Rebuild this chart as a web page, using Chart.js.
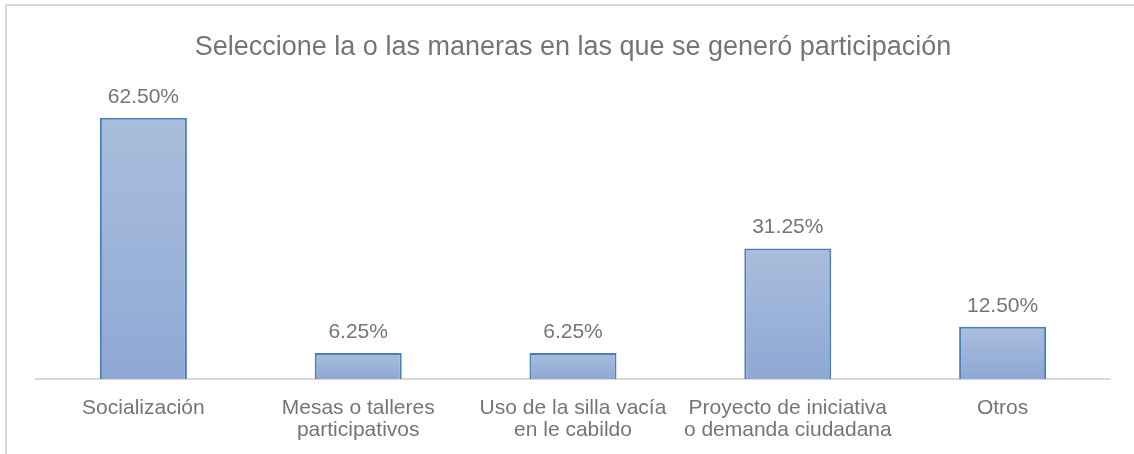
<!DOCTYPE html>
<html>
<head>
<meta charset="utf-8">
<script src="https://cdn.jsdelivr.net/npm/chart.js@4/dist/chart.umd.min.js"></script>
<style>
    body { margin: 0; background: #fff; overflow: hidden; }
    .frame { position: absolute; left: 5px; top: 4px; width: 1200px; height: 500px;
             border-top: 2px solid #d9d9d9; border-left: 2px solid #d9d9d9; }
    #chart { position: absolute; left: 0; top: 0; }
</style>
</head>
<body>
<div class="frame"></div>
<canvas id="chart" width="1134" height="454"></canvas>
<script>
// datos
const chartTitle = 'Seleccione la o las maneras en las que se generó participación'
const categories = [
    'Socialización',
    ['Mesas o talleres', 'participativos'],
    ['Uso de la silla vacía', 'en le cabildo'],
    ['Proyecto de iniciativa', 'o demanda ciudadana'],
    'Otros'
]
const values = [62.5, 6.25, 6.25, 31.25, 12.5]

const textColor = '#757575'
const fontFamily = '"Liberation Sans", Arial, sans-serif'

function barGradient(context) {
    const chart = context.chart
    const y = chart.scales.y
    if (!y || context.raw === undefined) return '#9db3d8'
    const top = y.getPixelForValue(context.raw)
    const bottom = y.getPixelForValue(0)
    if (!isFinite(top) || !isFinite(bottom) || top === bottom) return '#9db3d8'
    const g = chart.ctx.createLinearGradient(0, top, 0, bottom)
    g.addColorStop(0, '#aabddc')
    g.addColorStop(1, '#8ea9d5')
    return g
}

// etiquetas de valor encima de cada barra
const valueLabels = {
    id: 'valueLabels',
    afterDatasetsDraw(chart) {
        const ctx = chart.ctx
        const meta = chart.getDatasetMeta(0)
        ctx.save()
        ctx.font = '21px ' + fontFamily
        ctx.fillStyle = textColor
        ctx.textAlign = 'center'
        ctx.textBaseline = 'alphabetic'
        meta.data.forEach((bar, i) => {
            ctx.fillText(values[i].toFixed(2) + '%', bar.x, bar.y - 15)
        })
        ctx.restore()
    }
}

const data = {
    labels: categories,
    datasets: [{
        data: values,
        backgroundColor: barGradient,
        borderColor: '#4a7ebb',
        borderWidth: 2,
        barPercentage: 0.405,
        categoryPercentage: 1
    }]
}

const config = {
    type: 'bar',
    data: data,
    options: {
        responsive: false,
        animation: false,
        layout: { padding: { left: 36, right: 24, top: 0, bottom: 0 } },
        plugins: {
            legend: { display: false },
            tooltip: { enabled: false },
            title: {
                display: true,
                text: chartTitle,
                color: textColor,
                font: { family: fontFamily, size: 27, weight: 'normal' },
                padding: { top: 31, bottom: 23 }
            }
        },
        scales: {
            y: { display: false, min: 0, max: 70 },
            x: {
                grid: { display: false, drawTicks: false },
                border: { display: true, color: '#d9d9d9', width: 2 },
                ticks: {
                    color: textColor,
                    padding: 18,
                    maxRotation: 0,
                    autoSkip: false,
                    font: { family: fontFamily, size: 21, lineHeight: 1.05 }
                },
                afterFit(scale) { scale.height = 75 }
            }
        }
    },
    plugins: [valueLabels]
}

let ctx = document.getElementById('chart').getContext('2d')
new Chart(ctx, config)
</script>
</body>
</html>
